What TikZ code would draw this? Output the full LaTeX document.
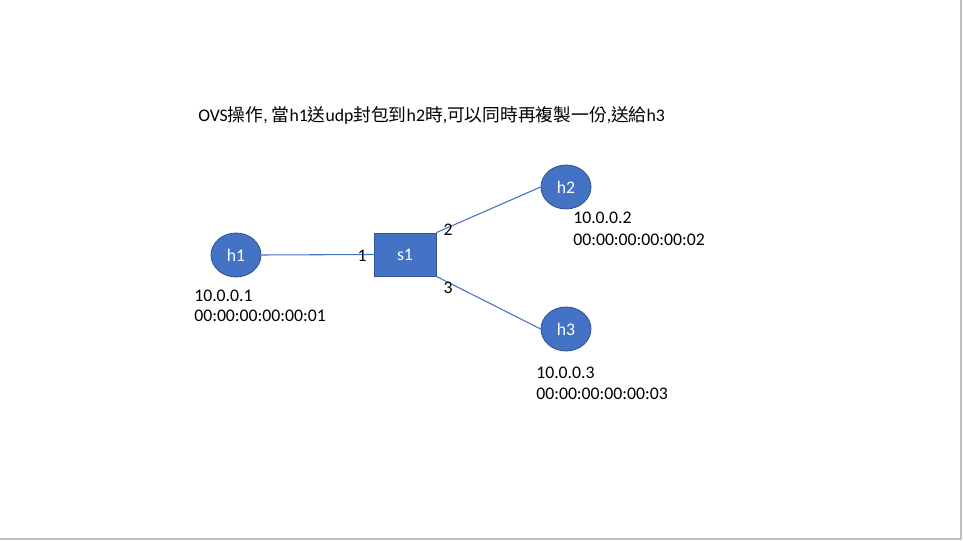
\documentclass[tikz,border=0pt]{standalone}
\usepackage{fontspec}
\setmainfont{Carlito}
\newfontfamily\cjk{Noto Sans CJK TC}
\usetikzlibrary{shapes.geometric}
\definecolor{offblue}{HTML}{4472C4}
\definecolor{offedge}{HTML}{2F528F}
\tikzset{
  host/.style={ellipse, fill=offblue, draw=offedge, line width=0.6pt, minimum width=50*0.75pt, minimum height=44*0.75pt, inner sep=0pt, text=white, font=\fontsize{13.3}{16}\selectfont},
  switchbox/.style={rectangle, fill=offblue, draw=offedge, line width=0.6pt, minimum width=62*0.75pt, minimum height=43*0.75pt, inner sep=0pt, text=white, font=\fontsize{13.3}{16}\selectfont},
  link/.style={draw=offblue, line width=0.8pt},
  txt/.style={font=\fontsize{13.3}{16}\selectfont, inner sep=0pt, anchor=west, text=black},
  portlbl/.style={font=\fontsize{13.3}{16}\selectfont, inner sep=0pt, text=black}
}
\begin{document}
\begin{tikzpicture}[x=0.75pt, y=-0.75pt]
\useasboundingbox (0,0) rectangle (963,541);
\fill[white] (0,0) rectangle (963,541);
\draw[black!25, line width=1pt] (961,0) -- (961,539) -- (0,539);
\node[txt] (title) at (198,115) {OVS{\cjk 操作}, {\cjk 當}h1{\cjk 送}udp{\cjk 封包到}h2{\cjk 時},{\cjk 可以同時再複製一份},{\cjk 送給}h3};
\node[host] (h1) at (236,255) {h1};
\node[switchbox] (s1) at (405,254.5) {s1};
\node[host] (h2) at (566,187) {h2};
\node[host] (h3) at (566,329) {h3};
\draw[link] (h1.east) -- (s1.west);
\draw[link] (s1.north east) -- (h2.west);
\draw[link] (s1.south east) -- (h3.west);
\node[portlbl] (p1) at (362,256) {1};
\node[portlbl] (p2) at (448,230) {2};
\node[portlbl] (p3) at (448,288) {3};
\node[txt] (ip1) at (194,296) {10.0.0.1};
\node[txt] (mac1) at (194,316) {00:00:00:00:00:01};
\node[txt] (ip2) at (573,218) {10.0.0.2};
\node[txt] (mac2) at (573,240) {00:00:00:00:00:02};
\node[txt] (ip3) at (536,373) {10.0.0.3};
\node[txt] (mac3) at (536,394) {00:00:00:00:00:03};
\end{tikzpicture}
\end{document}
